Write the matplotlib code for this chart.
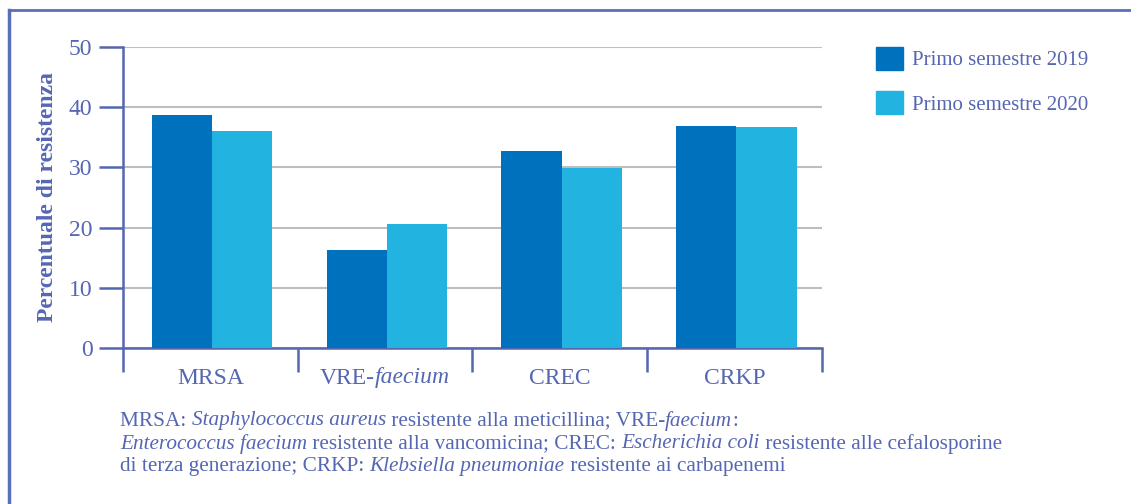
import matplotlib
matplotlib.use('Agg')
import matplotlib.pyplot as plt
from matplotlib.lines import Line2D
from matplotlib.patches import Patch

categories = ['MRSA', 'VRE-faecium', 'CREC', 'CRKP']
series_names = ['Primo semestre 2019', 'Primo semestre 2020']
values_2019 = [38.7, 16.2, 32.8, 36.9]
values_2020 = [36.0, 20.6, 29.9, 36.7]
yticks = [0, 10, 20, 30, 40, 50]

dark = '#0071BC'
light = '#22B3E0'
txt = '#5566B3'
axc = '#5567B0'
grid = '#BEBEBE'

plt.rcParams['font.family'] = ['Liberation Serif', 'DejaVu Serif']

fig = plt.figure(figsize=(11.31, 5.04), dpi=100)
W, H = 1131, 504
ax = fig.add_axes([123 / W, 1 - 348 / H, (822 - 123) / W, (348 - 47) / H])

x = list(range(len(categories)))
bw = 0.345
ax.bar([i - bw / 2 + 0.01 for i in x], values_2019, bw, color=dark, label=series_names[0], zorder=3)
ax.bar([i + bw / 2 + 0.01 for i in x], values_2020, bw, color=light, label=series_names[1], zorder=3)

ax.set_xlim(-0.5, len(categories) - 0.5)
ax.set_ylim(0, 50)
ax.set_yticks(yticks)
ax.set_yticklabels([str(v) for v in yticks], fontsize=17, color=txt)
ax.tick_params(axis='y', length=17, width=1.8, color=axc, pad=5)
ax.yaxis.grid(True, color=grid, linewidth=1.5, zorder=0)
ax.set_axisbelow(True)

ax.set_xticks([i - 0.5 for i in range(len(categories) + 1)])
ax.set_xticklabels([])
ax.tick_params(axis='x', length=17, width=1.8, color=axc)

for s in ['top', 'right']:
    ax.spines[s].set_visible(False)
for s in ['left', 'bottom']:
    ax.spines[s].set_color(axc)
    ax.spines[s].set_linewidth(1.8)

ax.set_ylabel('Percentuale di resistenza', fontsize=17, fontweight='bold', color=txt, labelpad=8)

fig.canvas.draw()
r = fig.canvas.get_renderer()

# category labels (VRE-faecium mixes roman and italic)
ylab = 1 - 378 / H
for i, c in enumerate(categories):
    xc = ax.transData.transform((i, 0))[0]
    if c.startswith('VRE-'):
        parts = [('VRE-', 'normal'), (c[4:], 'italic')]
    else:
        parts = [(c, 'normal')]
    tmp = [fig.text(0, 0, s, fontsize=17, style=st) for s, st in parts]
    widths = [t.get_window_extent(renderer=r).width for t in tmp]
    for t in tmp:
        t.remove()
    xp = xc - sum(widths) / 2
    for (s, st), w in zip(parts, widths):
        fig.text(xp / W, ylab, s, fontsize=17, style=st, color=txt, ha='left', va='center')
        xp += w

fig.legend(handles=[Patch(color=dark, label=series_names[0]), Patch(color=light, label=series_names[1])],
           loc='upper left', bbox_to_anchor=(876 / W, 1 - 47 / H), frameon=False,
           borderpad=0, borderaxespad=0,
           fontsize=15, labelcolor=txt, handlelength=1.3, handleheight=1.3,
           handletextpad=0.45, labelspacing=1.0)

# footnote, drawn piece by piece to mix roman and italic
foot = [
    [('MRSA: ', 'normal'), ('Staphylococcus aureus', 'italic'), (' resistente alla meticillina; VRE-', 'normal'),
     ('faecium', 'italic'), (':', 'normal')],
    [('Enterococcus faecium', 'italic'), (' resistente alla vancomicina; CREC: ', 'normal'),
     ('Escherichia coli', 'italic'), (' resistente alle cefalosporine', 'normal')],
    [('di terza generazione; CRKP: ', 'normal'), ('Klebsiella pneumoniae', 'italic'),
     (' resistente ai carbapenemi', 'normal')],
]
ys = [421, 444, 467]
for line, yp in zip(foot, ys):
    xp = 120
    for s, st in line:
        t = fig.text(xp / W, 1 - yp / H, s, fontsize=15.3, color=txt, style=st, va='center', ha='left')
        xp += t.get_window_extent(renderer=r).width

# frame around the panel
fig.add_artist(Line2D([9 / W, 9 / W], [0, 1 - 9.5 / H], color='#5A6FBA', linewidth=2.5))
fig.add_artist(Line2D([9 / W, 1], [1 - 9.5 / H, 1 - 9.5 / H], color='#5A6FBA', linewidth=2))

fig.savefig('out.png', dpi=100)
